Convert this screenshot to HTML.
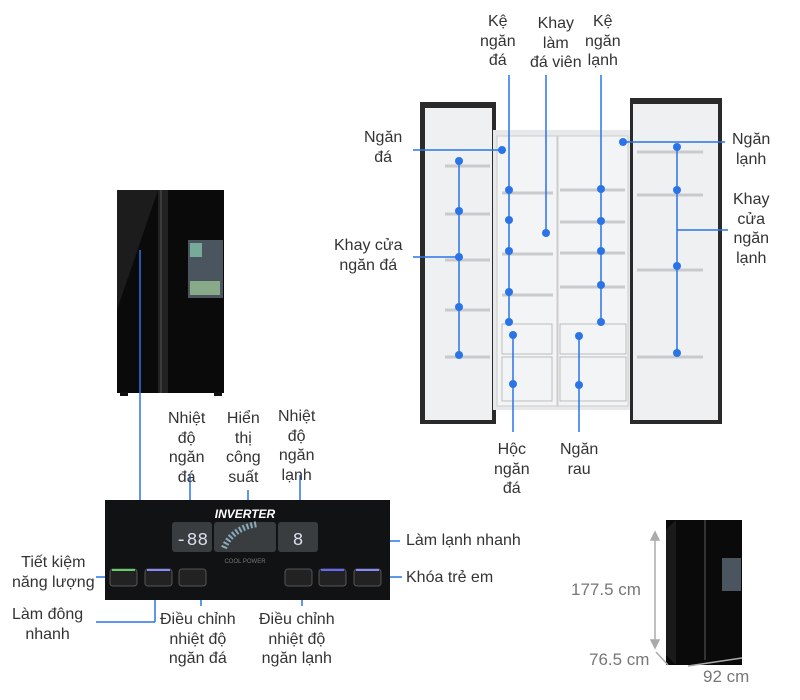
<!DOCTYPE html>
<html><head><meta charset="utf-8"><style>
body{margin:0;background:#fff;width:800px;height:700px;position:relative;overflow:hidden;font-family:"Liberation Sans","Noto Sans CJK SC",sans-serif;}
.t{position:absolute;font-size:16px;color:#333;line-height:19.5px;text-align:center;white-space:nowrap}
.g{color:#777;font-size:17px}
</style></head><body>
<svg width="800" height="700" style="position:absolute;left:0;top:0">
<rect x="117" y="190" width="107" height="203" fill="#0a0a0a"/>
<polygon points="117,190 158,190 117,310" fill="#1c1c1c"/>
<rect x="158" y="190" width="10" height="203" fill="#222"/>
<line x1="161" y1="190" x2="161" y2="393" stroke="#555"/>
<rect x="188" y="240" width="35" height="58" fill="#4a5560"/>
<rect x="190" y="243" width="12" height="14" fill="#7a9"/>
<rect x="190" y="281" width="30" height="14" fill="#8a8"/>
<rect x="120" y="392" width="8" height="4" fill="#111"/><rect x="214" y="392" width="8" height="4" fill="#111"/>
<rect x="420" y="102" width="76" height="322" fill="#2a2a2a"/>
<rect x="425" y="108" width="67" height="312" fill="#eef0f2"/>
<rect x="493" y="130" width="139" height="280" fill="#e6e8ea"/>
<rect x="497" y="136" width="60" height="270" fill="#f3f4f6" stroke="#ccc"/>
<rect x="558" y="136" width="70" height="270" fill="#f3f4f6" stroke="#ccc"/>
<rect x="630" y="98" width="92" height="326" fill="#2a2a2a"/>
<rect x="633" y="104" width="85" height="316" fill="#eef0f2"/>
<g stroke="#c8cacc" stroke-width="3">
<line x1="445" y1="166" x2="490" y2="166"/><line x1="445" y1="214" x2="490" y2="214"/><line x1="445" y1="260" x2="490" y2="260"/><line x1="445" y1="310" x2="490" y2="310"/><line x1="445" y1="357" x2="490" y2="357"/>
<line x1="637" y1="152" x2="703" y2="152"/><line x1="637" y1="195" x2="703" y2="195"/><line x1="637" y1="270" x2="703" y2="270"/><line x1="637" y1="357" x2="703" y2="357"/>
<line x1="502" y1="193" x2="553" y2="193"/><line x1="502" y1="254" x2="553" y2="254"/><line x1="502" y1="295" x2="553" y2="295"/>
<line x1="560" y1="190" x2="625" y2="190"/><line x1="560" y1="222" x2="625" y2="222"/><line x1="560" y1="253" x2="625" y2="253"/><line x1="560" y1="287" x2="625" y2="287"/>
</g>
<rect x="502" y="324" width="50" height="30" fill="none" stroke="#bbb"/><rect x="502" y="357" width="50" height="44" fill="none" stroke="#bbb"/>
<rect x="560" y="324" width="66" height="30" fill="none" stroke="#bbb"/><rect x="560" y="357" width="66" height="44" fill="none" stroke="#bbb"/>
<g stroke="#2a74e8" stroke-width="1.5" fill="none">
<line x1="459" y1="161" x2="459" y2="355"/><line x1="413" y1="257" x2="459" y2="257"/>
<line x1="413" y1="150" x2="502" y2="150"/>
<line x1="509" y1="75" x2="509" y2="322"/>
<line x1="546" y1="75" x2="546" y2="233"/>
<line x1="601" y1="75" x2="601" y2="322"/>
<line x1="623" y1="142" x2="725" y2="142"/>
<line x1="677" y1="147" x2="677" y2="353"/><line x1="677" y1="230" x2="728" y2="230"/>
<line x1="513" y1="335" x2="513" y2="432"/><line x1="579" y1="336" x2="579" y2="432"/>
<line x1="140" y1="250" x2="140" y2="500"/>
<line x1="190" y1="475" x2="190" y2="530"/><line x1="248" y1="490" x2="248" y2="530"/><line x1="300" y1="475" x2="300" y2="530"/>
<line x1="96" y1="577" x2="122" y2="577"/>
<line x1="96" y1="622" x2="155" y2="622"/><line x1="155" y1="622" x2="155" y2="582"/>
<line x1="201" y1="582" x2="201" y2="606"/><line x1="302" y1="585" x2="302" y2="606"/>
<line x1="335" y1="568" x2="335" y2="541"/><line x1="335" y1="541" x2="400" y2="541"/>
<line x1="370" y1="577" x2="402" y2="577"/>
</g>
<g fill="#2a74e8">
<circle cx="459" cy="161" r="4"/><circle cx="459" cy="211" r="4"/><circle cx="459" cy="257" r="4"/><circle cx="459" cy="307" r="4"/><circle cx="459" cy="355" r="4"/>
<circle cx="502" cy="150" r="4"/>
<circle cx="509" cy="190" r="4"/><circle cx="509" cy="220" r="4"/><circle cx="509" cy="251" r="4"/><circle cx="509" cy="292" r="4"/><circle cx="509" cy="322" r="4"/>
<circle cx="546" cy="233" r="4"/>
<circle cx="601" cy="189" r="4"/><circle cx="601" cy="221" r="4"/><circle cx="601" cy="251" r="4"/><circle cx="601" cy="285" r="4"/><circle cx="601" cy="322" r="4"/>
<circle cx="623" cy="142" r="4"/>
<circle cx="677" cy="147" r="4"/><circle cx="677" cy="190" r="4"/><circle cx="677" cy="266" r="4"/><circle cx="677" cy="353" r="4"/>
<circle cx="513" cy="335" r="4"/><circle cx="513" cy="384" r="4"/><circle cx="579" cy="336" r="4"/><circle cx="579" cy="385" r="4"/>
</g>
<rect x="105" y="500" width="285" height="100" fill="#101214"/>
<text x="245" y="518" fill="#fff" font-size="12" font-weight="bold" font-style="italic" text-anchor="middle" font-family="Liberation Sans">INVERTER</text>
<rect x="172" y="522" width="40" height="30" rx="3" fill="#3a3d40"/>
<text x="192" y="545" fill="#dde" font-size="18" text-anchor="middle" font-family="Liberation Mono">-88</text>
<rect x="214" y="522" width="62" height="30" rx="3" fill="#3a3d40"/>
<path d="M224 548 Q232 528 258 524" stroke="#8ab" stroke-width="6" fill="none" stroke-dasharray="2 2"/>
<rect x="278" y="522" width="40" height="30" rx="3" fill="#3a3d40"/>
<text x="298" y="545" fill="#dde" font-size="18" text-anchor="middle" font-family="Liberation Mono">8</text>
<text x="245" y="563" fill="#777" font-size="6" text-anchor="middle">COOL POWER</text>
<g fill="#222" stroke="#555">
<rect x="110" y="569" width="27" height="17" rx="3"/><rect x="145" y="569" width="27" height="17" rx="3"/><rect x="179" y="569" width="27" height="17" rx="3"/>
<rect x="285" y="569" width="27" height="17" rx="3"/><rect x="319" y="569" width="27" height="17" rx="3"/><rect x="354" y="569" width="27" height="17" rx="3"/>
</g>
<line x1="112" y1="570" x2="135" y2="570" stroke="#6c6" stroke-width="2"/>
<line x1="147" y1="570" x2="170" y2="570" stroke="#88f" stroke-width="2"/>
<line x1="321" y1="570" x2="344" y2="570" stroke="#66f" stroke-width="2"/>
<line x1="356" y1="570" x2="379" y2="570" stroke="#88f" stroke-width="2"/>
<rect x="666" y="520" width="76" height="145" fill="#0a0a0a"/>
<polygon points="666,530 676,520 676,665 666,655" fill="#1a1a1a"/>
<line x1="705" y1="520" x2="705" y2="660" stroke="#333" stroke-width="2"/>
<rect x="722" y="558" width="19" height="33" fill="#4a5560"/>
<g stroke="#aaa" stroke-width="1.5" fill="#aaa">
<line x1="655" y1="535" x2="655" y2="645"/>
<polygon points="651,540 655,532 659,540"/><polygon points="651,640 655,648 659,640"/>
<line x1="656" y1="652" x2="668" y2="665"/>
<line x1="688" y1="666" x2="742" y2="658"/>
</g>
</svg>
<div class="t" style="left:480px;top:12px">Kệ<br>ngăn<br>đá</div>
<div class="t" style="left:530px;top:14px">Khay<br>làm<br>đá viên</div>
<div class="t" style="left:585px;top:12px">Kệ<br>ngăn<br>lạnh</div>
<div class="t" style="left:364px;top:128px">Ngăn<br>đá</div>
<div class="t" style="left:334px;top:236px">Khay cửa<br>ngăn đá</div>
<div class="t" style="left:732px;top:130px">Ngăn<br>lạnh</div>
<div class="t" style="left:733px;top:190px">Khay<br>cửa<br>ngăn<br>lạnh</div>
<div class="t" style="left:494px;top:440px">Hộc<br>ngăn<br>đá</div>
<div class="t" style="left:560px;top:440px">Ngăn<br>rau</div>
<div class="t" style="left:168px;top:409px">Nhiệt<br>độ<br>ngăn<br>đá</div>
<div class="t" style="left:226px;top:409px">Hiển<br>thị<br>công<br>suất</div>
<div class="t" style="left:278px;top:407px">Nhiệt<br>độ<br>ngăn<br>lạnh</div>
<div class="t" style="left:12px;top:553px">Tiết kiệm<br>năng lượng</div>
<div class="t" style="left:12px;top:605px">Làm đông<br>nhanh</div>
<div class="t" style="left:160px;top:610px">Điều chỉnh<br>nhiệt độ<br>ngăn đá</div>
<div class="t" style="left:259px;top:610px">Điều chỉnh<br>nhiệt độ<br>ngăn lạnh</div>
<div class="t" style="left:406px;top:531px">Làm lạnh nhanh</div>
<div class="t" style="left:406px;top:568px">Khóa trẻ em</div>
<div class="t g" style="left:571px;top:580px">177.5 cm</div>
<div class="t g" style="left:589px;top:650px">76.5 cm</div>
<div class="t g" style="left:703px;top:667px">92 cm</div>
</body></html>
